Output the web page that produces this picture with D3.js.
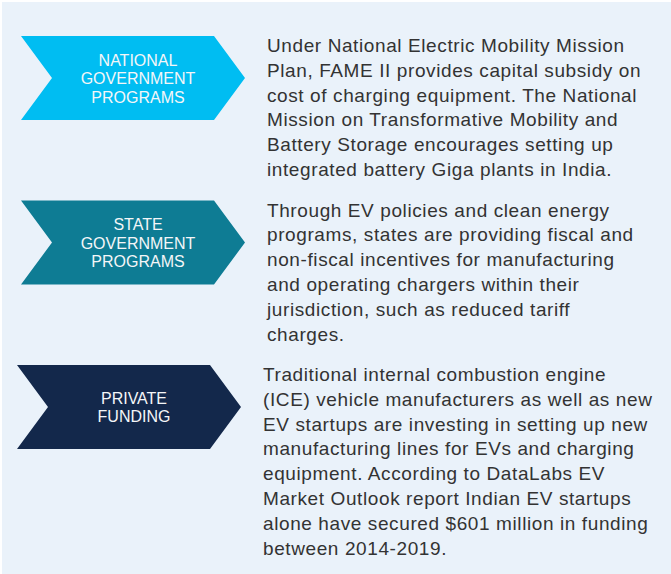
<!DOCTYPE html>
<html>
<head>
<meta charset="utf-8">
<script src="https://cdn.jsdelivr.net/npm/d3@7"></script>
<style>
	html, body { margin: 0; padding: 0; background: #ffffff; }
	svg { display: block; }
</style>
</head>
<body>
<svg id="chart" width="671" height="574"></svg>
<script>
'use strict';

// row labels (one entry per line inside the arrow)
const labels = [
	['NATIONAL', 'GOVERNMENT', 'PROGRAMS'],
	['STATE', 'GOVERNMENT', 'PROGRAMS'],
	['PRIVATE', 'FUNDING'],
];

const colours = ['#00bdf2', '#0e7c94', '#13284b'];

// descriptions, already broken into lines as in the original
const descriptions = [
	[
		'Under National Electric Mobility Mission',
		'Plan, FAME II provides capital subsidy on',
		'cost of charging equipment. The National',
		'Mission on Transformative Mobility and',
		'Battery Storage encourages setting up',
		'integrated battery Giga plants in India.',
	],
	[
		'Through EV policies and clean energy',
		'programs, states are providing fiscal and',
		'non-fiscal incentives for manufacturing',
		'and operating chargers within their',
		'jurisdiction, such as reduced tariff',
		'charges.',
	],
	[
		'Traditional internal combustion engine',
		'(ICE) vehicle manufacturers as well as new',
		'EV startups are investing in setting up new',
		'manufacturing lines for EVs and charging',
		'equipment. According to DataLabs EV',
		'Market Outlook report Indian EV startups',
		'alone have secured $601 million in funding',
		'between 2014-2019.',
	],
];

const width = 671;
const height = 574;

const svg = d3.select('#chart');

svg.append('rect')
	.attr('x', 2)
	.attr('y', 2)
	.attr('width', width - 2)
	.attr('height', height - 2)
	.attr('fill', '#eaf2fa');

// rows are evenly spaced down the panel
let rowY = d3.scalePoint()
	.domain(d3.range(labels.length))
	.range([36, 365]);

const rowShift = [0, 0, -4];
const arrowW = 193;   // width of the flat part
const arrowH = 84;
const notch = 31;
const lineH = 18.5;
const textLineH = 24.8;

let rows = svg.selectAll('g.row')
	.data(labels.map((d, i) => ({label: d, text: descriptions[i], colour: colours[i], i: i})))
	.enter().append('g')
		.attr('class', 'row')
		.attr('transform', d => 'translate(' + (21 + rowShift[d.i]) + ',' + rowY(d.i) + ')');

rows.append('path')
	.attr('fill', d => d.colour)
	.attr('d', function(){
		let p = d3.path();
		p.moveTo(0, 0);
		p.lineTo(arrowW, 0);
		p.lineTo(arrowW + notch, arrowH / 2);
		p.lineTo(arrowW, arrowH);
		p.lineTo(0, arrowH);
		p.lineTo(notch, arrowH / 2);
		p.closePath();
		return p.toString();
	});

rows.append('text')
	.attr('fill', '#f4f6f8')
	.attr('font-family', '"Liberation Sans", Arial, sans-serif')
	.attr('font-size', 16)
	.attr('text-anchor', 'middle')
	.selectAll('tspan')
	.data(d => d.label.map((t, k) => ({t: t, k: k, n: d.label.length})))
	.enter().append('tspan')
		.attr('x', 117)
		.attr('y', d => arrowH / 2 + 6 + (d.k - (d.n - 1) / 2) * lineH)
		.text(d => d.t);

rows.append('text')
	.attr('fill', '#333333')
	.attr('font-family', '"Liberation Sans", Arial, sans-serif')
	.attr('font-size', 19)
	.attr('letter-spacing', 0.6)
	.selectAll('tspan')
	.data(d => d.text.map((t, k) => ({t: t, k: k})))
	.enter().append('tspan')
		.attr('x', 246)
		.attr('y', d => 16 + d.k * textLineH)
		.text(d => d.t);
</script>
</body>
</html>
